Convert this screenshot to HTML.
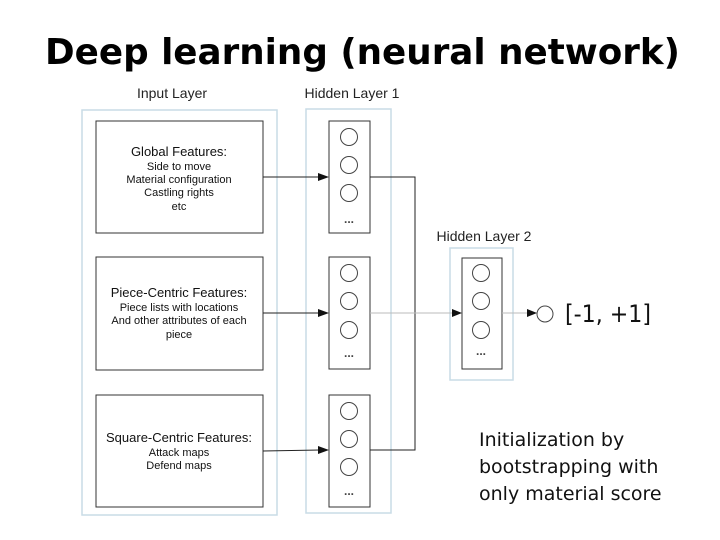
<!DOCTYPE html>
<html><head><meta charset="utf-8"><style>
body{margin:0;background:#fff;width:720px;height:540px;overflow:hidden}
svg{display:block}
</style></head><body>
<svg width="720" height="540" viewBox="0 0 720 540" xmlns="http://www.w3.org/2000/svg">
<text x="45" y="64" textLength="635" lengthAdjust="spacingAndGlyphs" font-family="DejaVu Sans, Liberation Sans, sans-serif" font-weight="bold" font-size="36" fill="#000">Deep learning (neural network)</text>
<g font-family="Liberation Sans, sans-serif" fill="#222" text-anchor="middle">
<text x="172" y="98" font-size="14">Input Layer</text>
<text x="352" y="98" font-size="14">Hidden Layer 1</text>
<text x="484" y="241" font-size="14">Hidden Layer 2</text>
</g>
<rect x="82" y="110" width="195" height="405" fill="none" stroke="#c8dce6" stroke-width="1.5"/>
<rect x="306" y="109" width="85" height="404" fill="none" stroke="#c8dce6" stroke-width="1.5"/>
<rect x="450" y="248" width="63" height="132" fill="none" stroke="#c8dce6" stroke-width="1.5"/>
<g fill="#fff" stroke="#333" stroke-width="1">
<rect x="96" y="121" width="167" height="112"/>
<rect x="96" y="257" width="167" height="113"/>
<rect x="96" y="395" width="167" height="112"/>
<rect x="329" y="121" width="41" height="112"/>
<rect x="329" y="257" width="41" height="112"/>
<rect x="329" y="395" width="41" height="112"/>
<rect x="462" y="258" width="40" height="111"/>
</g>
<g fill="#fff" stroke="#444" stroke-width="1">
<circle cx="349" cy="137" r="8.5"/><circle cx="349" cy="165" r="8.5"/><circle cx="349" cy="193" r="8.5"/>
<circle cx="349" cy="273" r="8.5"/><circle cx="349" cy="301" r="8.5"/><circle cx="349" cy="330" r="8.5"/>
<circle cx="349" cy="411" r="8.5"/><circle cx="349" cy="439" r="8.5"/><circle cx="349" cy="467" r="8.5"/>
<circle cx="481" cy="273" r="8.5"/><circle cx="481" cy="301" r="8.5"/><circle cx="481" cy="330" r="8.5"/>
<circle cx="545" cy="314" r="8"/>
</g>
<g font-family="Liberation Sans, sans-serif" font-size="12" font-weight="bold" fill="#444" text-anchor="middle">
<text x="349" y="223">...</text><text x="349" y="357">...</text><text x="349" y="495">...</text><text x="481" y="355">...</text>
</g>
<g stroke="#222" stroke-width="1" fill="none">
<line x1="263" y1="177" x2="320" y2="177"/>
<line x1="263" y1="313" x2="320" y2="313"/>
<line x1="263" y1="451" x2="320" y2="450"/>
<polyline points="370,177 415,177 415,450 370,450"/>
</g>
<g stroke="#bbb" stroke-width="1"><line x1="370" y1="313" x2="452" y2="313"/><line x1="502" y1="313" x2="530" y2="313"/></g>
<g fill="#111">
<path d="M318,173 L329,177 L318,181z"/><path d="M318,309 L329,313 L318,317z"/><path d="M318,446 L329,450 L318,454z"/>
<path d="M452,309 L462,313 L452,317z"/><path d="M527,309 L537,313 L527,317z"/></g>
<g font-family="Liberation Sans, sans-serif" fill="#111" text-anchor="middle">
<text x="179" y="156" font-size="13">Global Features:</text>
<text x="179" y="170" font-size="11">Side to move</text>
<text x="179" y="183" font-size="11">Material configuration</text>
<text x="179" y="196" font-size="11">Castling rights</text>
<text x="179" y="210" font-size="11">etc</text>
<text x="179" y="297" font-size="13">Piece-Centric Features:</text>
<text x="179" y="311" font-size="11">Piece lists with locations</text>
<text x="179" y="324" font-size="11">And other attributes of each</text>
<text x="179" y="338" font-size="11">piece</text>
<text x="179" y="442" font-size="13">Square-Centric Features:</text>
<text x="179" y="456" font-size="11">Attack maps</text>
<text x="179" y="469" font-size="11">Defend maps</text>
</g>
<g font-family="DejaVu Sans, Liberation Sans, sans-serif" fill="#111">
<text x="565" y="322" font-size="24" textLength="86" lengthAdjust="spacingAndGlyphs">[-1, +1]</text>
<text x="479" y="446" font-size="19">Initialization by</text>
<text x="479" y="473" font-size="19">bootstrapping with</text>
<text x="479" y="500" font-size="19">only material score</text>
</g>
</svg>
</body></html>
